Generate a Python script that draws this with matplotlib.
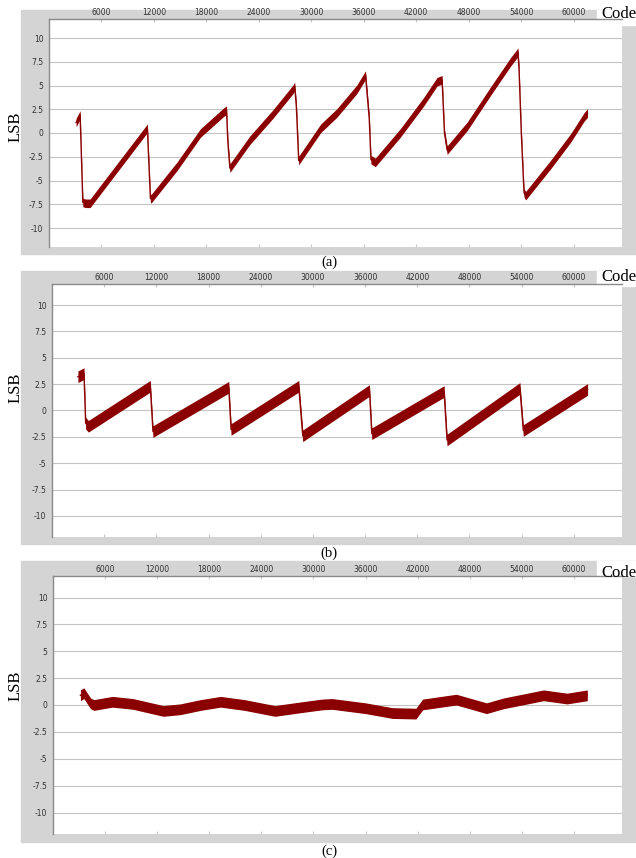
import matplotlib
matplotlib.use('Agg')
import matplotlib.pyplot as plt
from matplotlib.patches import Rectangle

# vertices (code, LSB)
code_a = [3100, 3560, 3870, 4130, 4700, 11250, 11600, 11700, 14650, 17320, 19990, 20300,
          20460, 20690, 22940, 25620, 27910, 28100, 28290, 28560, 31080, 32920, 35210,
          36200, 36630, 36820, 37320, 40180, 42860, 44390, 44960, 45230, 45540, 47830,
          50500, 52800, 53640, 53760, 54020, 54330, 54520, 57390, 59680, 61210, 61590]
lsb_a = [1.1, 1.9, -7.3, -7.4, -7.4, 0.5, -6.9, -6.9, -3.5, 0.0, 2.2, 2.4,
         -1.0, -3.7, -0.8, 2.0, 4.6, 4.9, 2.8, -2.9, 0.5, 2.1, 4.6,
         6.1, 1.5, -2.8, -3.1, 0.0, 3.3, 5.4, 5.6, 0.0, -1.8, 0.7,
         4.4, 7.5, 8.5, 6.7, 0.0, -6.3, -6.6, -3.3, -0.5, 1.7, 2.1]

code_b = [2980, 3680, 3870, 4180, 11300, 11610, 20320, 20590, 28370, 28830, 36500, 36770,
          45080, 45420, 53800, 54190, 61580]
lsb_b = [3.2, 3.5, -1.2, -1.5, 2.3, -2.0, 2.2, -1.8, 2.3, -2.4, 1.9, -2.2,
         1.8, -2.8, 2.1, -1.9, 2.0]

code_c = [3160, 3550, 4330, 4700, 6860, 9200, 12700, 14650, 17000, 19300, 22050, 25560,
          28670, 31000, 32130, 36000, 39100, 41800, 42580, 46450, 49930, 51870, 56500,
          59200, 61540]
lsb_c = [0.9, 1.1, 0.15, 0.0, 0.3, 0.1, -0.55, -0.4, 0.0, 0.3, 0.0, -0.55,
         -0.2, 0.05, 0.1, -0.3, -0.75, -0.8, 0.05, 0.5, -0.3, 0.15, 0.9,
         0.6, 0.9]

x_ticks = [6000, 12000, 18000, 24000, 30000, 36000, 42000, 48000, 54000, 60000]
y_ticks = [10, 7.5, 5, 2.5, 0, -2.5, -5, -7.5, -10]
captions = ['(a)', '(b)', '(c)']

W, H = 636, 858
fig = plt.figure(figsize=(W / 100, H / 100), dpi=100)

def fx(px):
    return px / W

def fy(py):
    return 1 - py / H

# pixel boxes: gray frame (x0, y0, x1, y1), plot area, caption y, LSB y, Code y
panels = [
    dict(gray=(21, 10, 636, 254), plot=(49, 19, 622, 247), cap=262, lsb=127, codey=14,
         data=(code_a, lsb_a), half=0.45),
    dict(gray=(21, 271, 636, 544), plot=(52, 284, 622, 537), cap=553, lsb=388, codey=277,
         data=(code_b, lsb_b), half=0.55),
    dict(gray=(21, 561, 636, 842), plot=(53, 576, 622, 834), cap=851, lsb=686, codey=573,
         data=(code_c, lsb_c), half=0.5),
]

gray = '#d4d4d4'
red = '#8b0000'

for p, cap in zip(panels, captions):
    gx0, gy0, gx1, gy1 = p['gray']
    fig.patches.append(Rectangle((fx(gx0), fy(gy1)), fx(gx1 - gx0), (gy1 - gy0) / H,
                                 transform=fig.transFigure, color=gray, zorder=-2))
    # white notch behind "Code"
    fig.patches.append(Rectangle((fx(597), fy(gy0 + 15)), fx(636 - 597), 15 / H,
                                 transform=fig.transFigure, color='white', zorder=-1))
    px0, py0, px1, py1 = p['plot']
    ax = fig.add_axes([fx(px0), fy(py1), fx(px1 - px0), (py1 - py0) / H])
    x, y = p['data']
    h = p['half']
    ax.fill_between(x, [v - h for v in y], [v + h for v in y], color=red, lw=0, zorder=3)
    ax.plot(x, y, color=red, lw=1, zorder=3)

    ax.set_xlim(0, 65536)
    ax.set_ylim(-12, 12)
    ax.set_yticks(y_ticks)
    ax.set_yticklabels([str(t) for t in y_ticks])
    ax.set_xticks(x_ticks)
    ax.set_xticklabels([str(t) for t in x_ticks])
    ax.xaxis.tick_top()
    ax.tick_params(axis='y', length=0, pad=4, labelsize=5.5, labelcolor='#303030')
    ax.tick_params(axis='x', which='both', top=True, bottom=True, direction='in',
                   length=2, color='#c8c8c8', pad=1.5, labelsize=5.5, labelcolor='#303030')
    ax.grid(axis='y', color='#c4c4c4', lw=0.8)
    ax.set_axisbelow(True)
    for s in ['right', 'bottom']:
        ax.spines[s].set_visible(False)
    for s in ['left', 'top']:
        ax.spines[s].set_color('#8a8a8a')
        ax.spines[s].set_linewidth(1)

    fig.text(fx(16), fy(p['lsb']), 'LSB', rotation=90, ha='center', va='center',
             fontsize=12, family='Liberation Serif')
    fig.text(fx(601), fy(p['codey']), 'Code', ha='left', va='center',
             fontsize=12, family='Liberation Serif')
    fig.text(fx(329), fy(p['cap']), cap, ha='center', va='center',
             fontsize=10.5, family='Liberation Serif')

fig.savefig('out.png', dpi=100)
